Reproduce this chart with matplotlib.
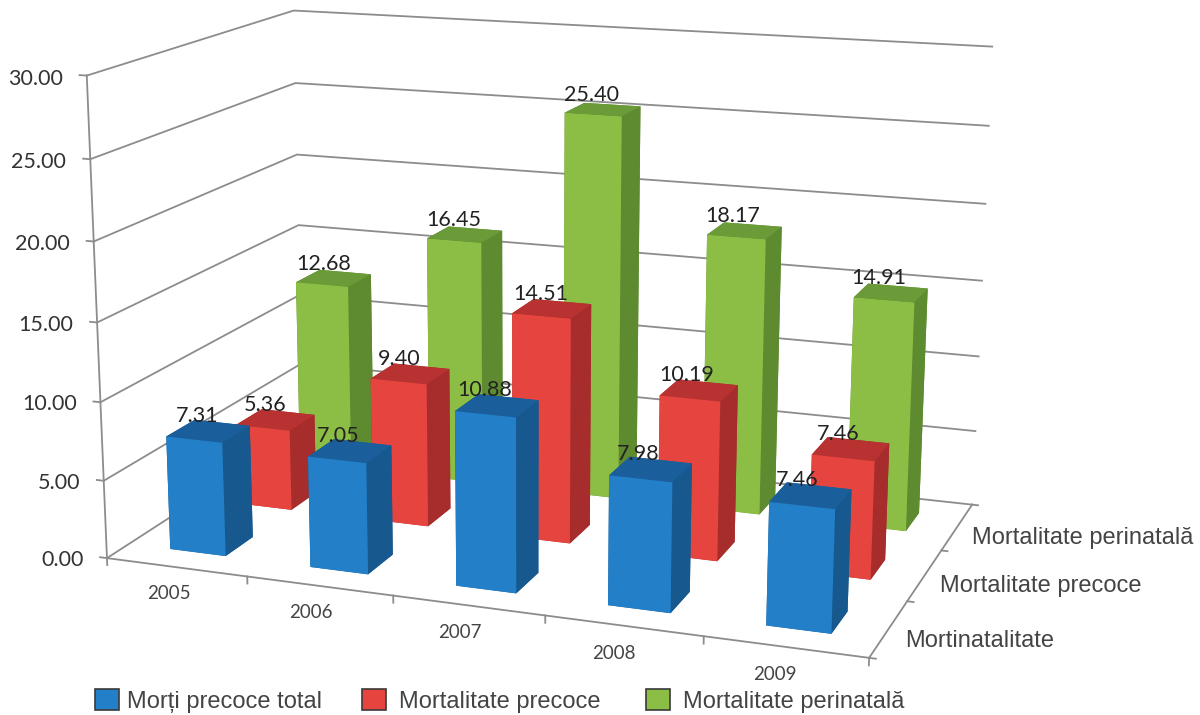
import numpy as np
import matplotlib

matplotlib.use("Agg")
import matplotlib.pyplot as plt
from matplotlib.patches import Patch
from mpl_toolkits.mplot3d import Axes3D

years = ["2005", "2006", "2007", "2008", "2009"]
series_names = ["Morți precoce total", "Mortalitate precoce", "Mortalitate perinatală"]
depth_labels = ["Mortinatalitate", "Mortalitate precoce", "Mortalitate perinatală"]

morti_precoce = [7.31, 7.05, 10.88, 7.98, 7.46]
mort_precoce = [5.36, 9.40, 14.51, 10.19, 7.46]
mort_perinatala = [12.68, 16.45, 25.40, 18.17, 14.91]

z_ticks = [0, 5, 10, 15, 20, 25, 30]

# colours per series: front, top, side
blue = ("#2380C8", "#1A5F9C", "#17598F")
red = ("#E5443F", "#B83231", "#A72D2C")
green = ("#8CBE45", "#6B9A38", "#5E8A30")

# camera calibration: box corners (category, series, value) -> figure pixels
box_points = [
    (0, 0, 0), (0, 0, 30), (0, 3, 30), (0, 3, 15),
    (5, 0, 0), (5, 3, 0), (5, 3, 30), (5, 3, 5), (0, 0, 15),
]
pixel_points = [
    (107, 558), (86, 77), (295, 10), (298, 225),
    (870, 657), (972, 505), (992, 46), (975, 432), (97, 322),
]
W, H = 1200, 715


def fit_camera(src, dst):
    """Least squares 3x4 projection matrix (DLT)"""
    rows = []
    for (x, y, z), (u, v) in zip(src, dst):
        rows.append([x, y, z, 1, 0, 0, 0, 0, -u * x, -u * y, -u * z, -u])
        rows.append([0, 0, 0, 0, x, y, z, 1, -v * x, -v * y, -v * z, -v])
    P = np.linalg.svd(np.array(rows, dtype=float))[2][-1].reshape(3, 4)
    return P / (P[2] @ np.array([2.5, 1.5, 15, 1]))


CAMERA = fit_camera(box_points, pixel_points)


class FixedCameraAxes(Axes3D):
    """3D axes projecting through a calibrated camera, filling the figure"""

    def apply_aspect(self, position=None):
        pass

    def get_proj(self):
        # figure pixels with y upwards, then into the axes' own 2D coordinates
        to_fig = np.array([[1, 0, 0], [0, -1, H], [0, 0, 1]], dtype=float)
        scale = self.figure.dpi / 100
        to_disp = np.diag([scale, scale, 1.0])
        to_view = self.transData.inverted().get_matrix()
        P = to_view @ to_disp @ to_fig @ CAMERA
        depth = CAMERA[2] + np.array([0, 0, 0, -1.0])
        return np.vstack([P[0], P[1], depth, P[2]])


def label_at(x, y, z, text, **kwargs):
    """Plain figure text placed at a 3D chart position"""
    u, v, w = CAMERA @ np.array([x, y, z, 1.0])
    fig.text(u / w / W, 1 - v / w / H, text, **kwargs)


def draw_bars(ax, values, row, colours, zorder):
    front, top, side = colours
    for i, val in enumerate(values):
        art = ax.bar3d(
            i + 0.3, row + 0.3, 0, 0.4, 0.4, val,
            color=[top, top, front, side, side, side],
            shade=False, linewidth=0,
        )
        art.set_zorder(zorder + i * 0.01)


fig = plt.figure(figsize=(W / 100, H / 100), dpi=100)
ax = fig.add_axes([0, 0, 1, 1], axes_class=FixedCameraAxes, computed_zorder=False)
ax.set_proj_type("ortho")  # no near/far clipping of lines
ax.set_axis_off()

line_kw = dict(color="#8C8C8C", lw=1.3, zorder=1)
for z in z_ticks:
    ax.plot([0, 0, 5], [0, 3, 3], [z, z, z], **line_kw)
    ax.plot([-0.05, 0], [0, 0], [z, z], **line_kw)
    label_at(-0.17, 0, z - 0.3, "%.2f" % z, ha="right", va="center", family="Lato",
             fontsize=15.5, color="#333333")
ax.plot([0, 0], [0, 0], [0, 30], **line_kw)
ax.plot([0, 5, 5], [0, 0, 3], [0, 0, 0], **line_kw)
for i in range(6):
    ax.plot([i, i], [0, 0], [0, -0.45], **line_kw)
for j in range(4):
    ax.plot([5, 5.04], [j, j], [0, 0], **line_kw)

for i, year in enumerate(years):
    label_at(i + 0.44, 0, -1.75, year, ha="center", va="center", family="Lato",
             fontsize=13.5, color="#444444")
for j, name in enumerate(depth_labels):
    label_at(5.1, j + 0.5, -0.6, name, ha="left", va="center", family="Liberation Sans",
             fontsize=17, color="#444444")

draw_bars(ax, mort_perinatala, 2, green, 4)
draw_bars(ax, mort_precoce, 1, red, 6)
draw_bars(ax, morti_precoce, 0, blue, 8)

for row, values in enumerate([morti_precoce, mort_precoce, mort_perinatala]):
    for i, val in enumerate(values):
        label_at(i + 0.42, row + 0.5, val + 0.25, "%.2f" % val, ha="center", va="bottom",
                 family="Lato", fontsize=15.5, color="#222222")

legend_x = [95, 362, 646]
legend_gap = [0.35, 0.55, 0.55]
for x, gap, c, n in zip(legend_x, legend_gap, [blue, red, green], series_names):
    fig.legend(handles=[Patch(facecolor=c[0], edgecolor="#3A3A3A", lw=1.2, label=n)],
               frameon=False, loc="center left", bbox_to_anchor=(x / W, 1 - 701 / H),
               prop=dict(family="Liberation Sans", size=17), labelcolor="#444444",
               handlelength=1.0, handleheight=0.95, handletextpad=gap,
               borderpad=0, borderaxespad=0)

fig.savefig("out.png", dpi=100)
